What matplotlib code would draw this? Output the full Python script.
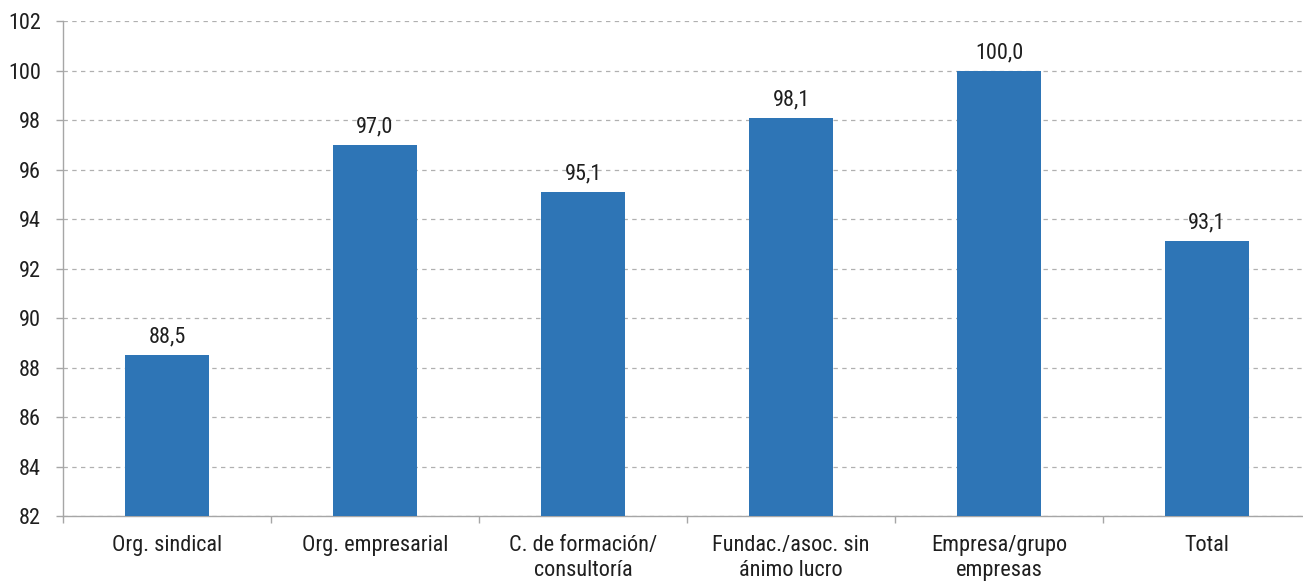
import matplotlib
matplotlib.use("Agg")
import matplotlib.pyplot as plt
from matplotlib import font_manager as fm
import numpy as np

categories = ["Org. sindical", "Org. empresarial", "C. de formación/\nconsultoría",
              "Fundac./asoc. sin\nánimo lucro", "Empresa/grupo\nempresas", "Total"]
values = [88.5, 97.0, 95.1, 98.1, 100.0, 93.1]
value_labels = ["88,5", "97,0", "95,1", "98,1", "100,0", "93,1"]
yticks = list(range(82, 103, 2))

names = {f.name for f in fm.fontManager.ttflist}
pref = ["Roboto Condensed", "Liberation Sans Narrow", "Open Sans Condensed", "Roboto", "DejaVu Sans"]
fam = next(f for f in pref if f in names or f == "DejaVu Sans")
plt.rcParams['font.family'] = [fam, 'DejaVu Sans']

txt_color = "#1f1f1f"
fs = 16
fig = plt.figure(figsize=(13.03, 5.82), dpi=100)
ax = fig.add_axes([63/1303, 66/582, 1248/1303, 495/582])

x = np.arange(len(categories))
bar_color = "#2E75B6"
ax.bar(x, values, width=0.4, color=bar_color, zorder=3)
ax.set_ylim(82, 102)
ax.set_xlim(-0.5, len(categories) - 0.5)
ax.set_yticks(yticks)
ax.set_yticklabels([str(t) for t in yticks], fontsize=fs, color=txt_color)
ax.yaxis.grid(True, linestyle=(0, (3.5, 3.5)), color="#B0B0B0", linewidth=0.9, zorder=0)
ax.set_axisbelow(True)

ax.set_xticks(np.arange(len(categories) + 1) - 0.5, minor=False)
ax.set_xticklabels([])
ax.set_xticks(x, minor=True)
ax.set_xticklabels(categories, minor=True, fontsize=fs, linespacing=1.2, color=txt_color)
ax.tick_params(axis='x', which='minor', length=0, pad=14)
ax.tick_params(axis='x', which='major', length=5, color="#A6A6A6", width=1)
ax.tick_params(axis='y', length=5, color="#A6A6A6", width=1, pad=11)

for s in ["top", "right"]:
    ax.spines[s].set_visible(False)
for s in ["left", "bottom"]:
    ax.spines[s].set_color("#A6A6A6")
    ax.spines[s].set_linewidth(1)

for xi, v, lab in zip(x, values, value_labels):
    ax.annotate(lab, (xi, v), xytext=(0, 9), textcoords="offset points",
                ha="center", va="baseline", fontsize=fs, color=txt_color)

fig.savefig("out.png", dpi=100)
